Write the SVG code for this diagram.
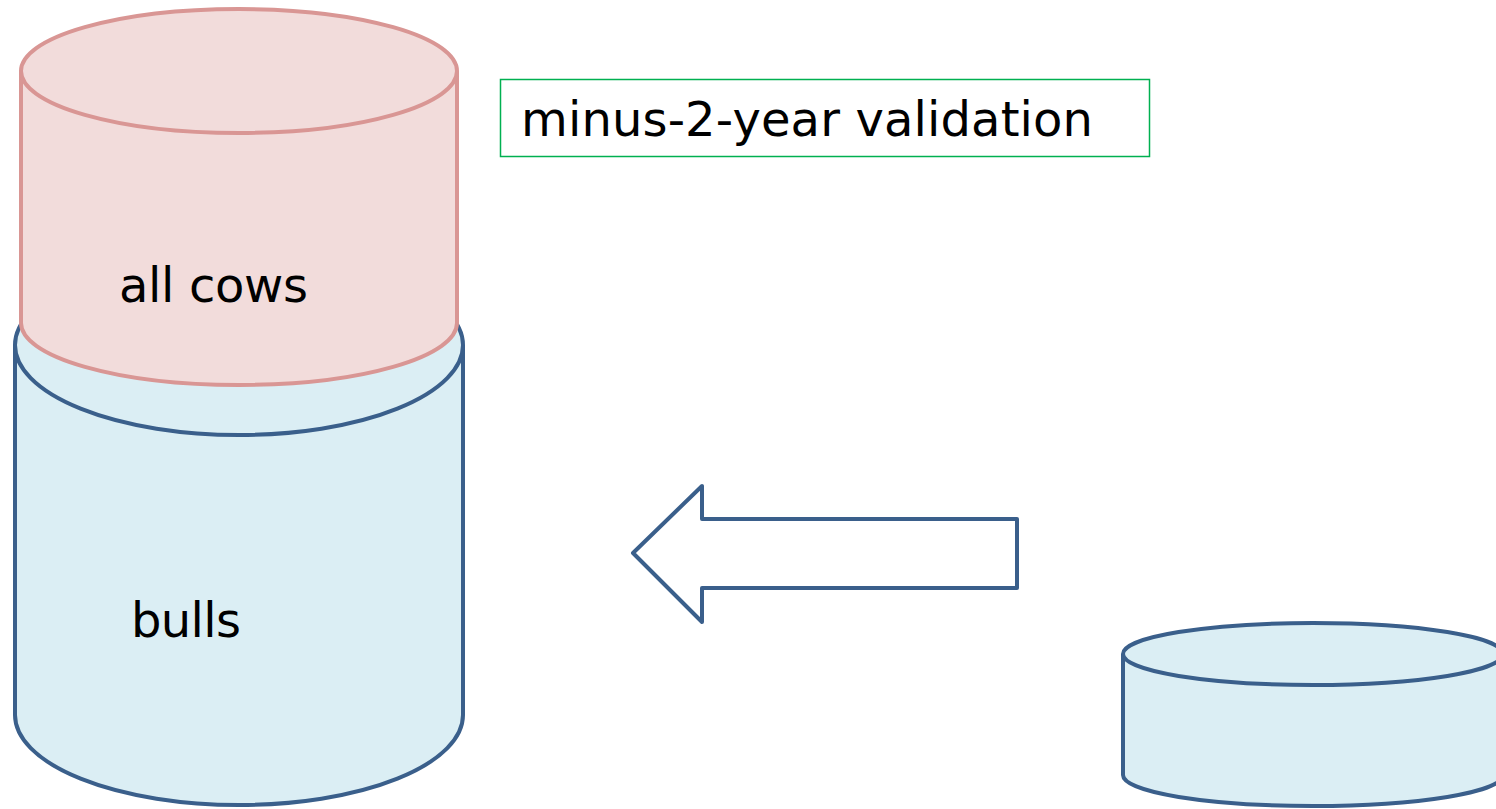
<svg xmlns="http://www.w3.org/2000/svg" width="1496" height="809" viewBox="0 0 1496 809">
<style>
.blue{fill:#dbeef4;stroke:#3a5f8b;stroke-width:4;stroke-linejoin:round}
.pink{fill:#f2dcdb;stroke:#d99694;stroke-width:4}
.lbl{font-family:"DejaVu Sans",Verdana,sans-serif;font-size:48px;fill:#000}
</style>
<rect width="1496" height="809" fill="#fff"/>
<g id="bulls">
<path class="blue" d="M15,345 L15,715 A224,90 0 0 0 463,715 L463,345"/>
<ellipse class="blue" cx="239" cy="345" rx="224" ry="90"/>
<text class="lbl" x="131" y="637" textLength="110">bulls</text>
</g>
<g id="cows">
<path class="pink" d="M21,71 L21,323 A218,62 0 0 0 457,323 L457,71"/>
<ellipse class="pink" cx="239" cy="71" rx="218" ry="62"/>
<text class="lbl" x="119" y="302" textLength="189">all cows</text>
</g>
<g id="label">
<rect x="500.5" y="79.5" width="649" height="77" fill="#fff" stroke="#00b050" stroke-width="1.5"/>
<text class="lbl" x="521" y="136" textLength="572">minus-2-year validation</text>
</g>
<g id="small-db">
<path class="blue" d="M1123,654 L1123,775 A190,31 0 0 0 1503,775 L1503,654"/>
<ellipse class="blue" cx="1313" cy="654" rx="190" ry="31"/>
</g>
<g id="connectors">
<polygon points="633,553 702,486 702,519 1017,519 1017,588 702,588 702,622" fill="#fff" stroke="#3a5f8b" stroke-width="4" stroke-linejoin="round"/>
</g>
</svg>
